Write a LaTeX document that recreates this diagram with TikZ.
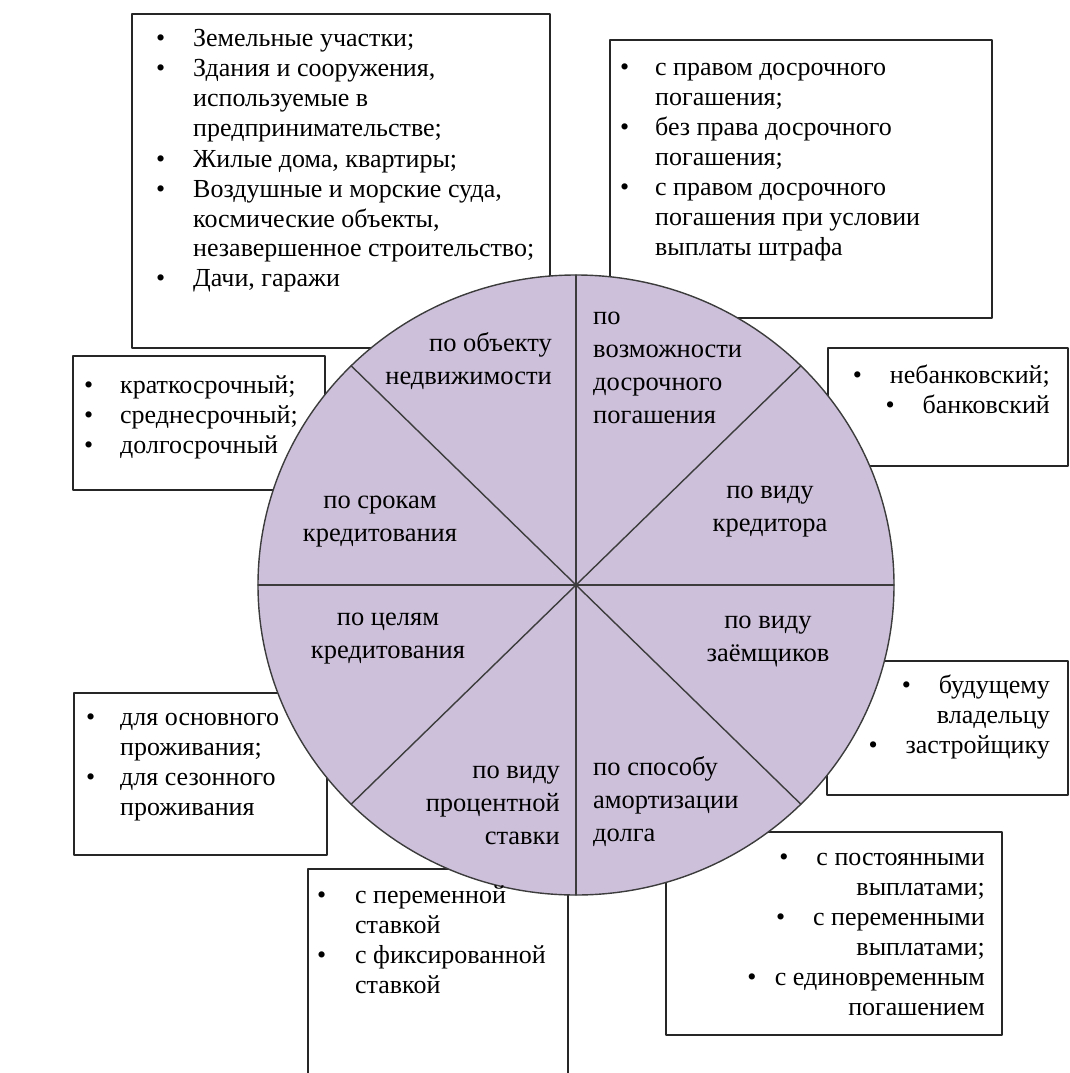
\documentclass[tikz,border=0pt]{standalone}
\usepackage{fontspec}
\setmainfont{Liberation Serif}
\definecolor{lilac}{RGB}{204,192,218}
\definecolor{rimgray}{RGB}{60,60,60}
\newcommand{\bul}[1][28]{\textbullet\hspace{#1pt}}

\begin{document}
\begin{tikzpicture}[line cap=round,line join=round,x=1pt,y=-1pt,
	frame/.style={line width=1.6pt,color=black!85},
	rim/.style={line width=1.4pt,color=rimgray},
	txt/.style={inner sep=0pt,font=\fontsize{26}{30}\selectfont},
	sec/.style={inner sep=0pt,font=\fontsize{26.5}{33}\selectfont}]
	\clip (0,0) rectangle (1070,1073);
	\useasboundingbox (0,0) rectangle (1070,1073);
	% boxes
	\draw [frame] (132,14) rectangle (550,348);
	\draw [frame] (610,40) rectangle (992,318);
	\draw [frame] (73,356) rectangle (325,490);
	\draw [frame] (828,348) rectangle (1068,466);
	\draw [frame] (827,661) rectangle (1068,795);
	\draw [frame] (74,693) rectangle (327,855);
	\draw [frame] (308,869) rectangle (568,1090);
	\draw [frame] (666,832) rectangle (1002,1035);
	% circle
	\coordinate (ctr) at (576,585);
	\fill [lilac] (ctr) ellipse [x radius=318,y radius=310];
	\draw [rim] (ctr) +(90:318 and 310) -- +(270:318 and 310);
	\draw [rim] (ctr) +(0:318 and 310) -- +(180:318 and 310);
	\draw [rim] (ctr) +(45:318 and 310) -- +(225:318 and 310);
	\draw [rim] (ctr) +(135:318 and 310) -- +(315:318 and 310);
	\draw [rim] (ctr) ellipse [x radius=318,y radius=310];
	% sector labels (base = last line)
	\draw[color=black] (552,384) node[sec,anchor=base east,align=right] (objekt) {по объекту\\недвижимости};
	\draw[color=black] (593,423) node[sec,anchor=base west,align=left] (dosroch) {по\\возможности\\досрочного\\погашения};
	\draw[color=black] (770,531) node[sec,anchor=base,align=center] (kreditor) {по виду\\кредитора};
	\draw[color=black] (768,661) node[sec,anchor=base,align=center] (zaem) {по виду\\заёмщиков};
	\draw[color=black] (593,841) node[sec,anchor=base west,align=left] (amort) {по способу\\амортизации\\долга};
	\draw[color=black] (560,844) node[sec,anchor=base east,align=right] (stavka) {по виду\\процентной\\ставки};
	\draw[color=black] (388,658) node[sec,anchor=base,align=center] (celi) {по целям\\кредитования};
	\draw[color=black] (380,541) node[sec,anchor=base,align=center] (sroki) {по срокам\\кредитования};
	% box texts
	\draw[color=black] (156,47) node[txt,anchor=base west] (obj list) {\begin{tabular}[t]{@{}p{37pt}@{}l@{}}
		\textbullet & Земельные участки;\\
		\textbullet & Здания и сооружения,\\
		 & используемые в\\
		 & предпринимательстве;\\
		\textbullet & Жилые дома, квартиры;\\
		\textbullet & Воздушные и морские суда,\\
		 & космические объекты,\\
		 & незавершенное строительство;\\
		\textbullet & Дачи, гаражи\end{tabular}};
	\draw[color=black] (620,75) node[txt,anchor=base west] (dos list) {\begin{tabular}[t]{@{}p{35pt}@{}l@{}}
		\textbullet & с правом досрочного\\
		 & погашения;\\
		\textbullet & без права досрочного\\
		 & погашения;\\
		\textbullet & с правом досрочного\\
		 & погашения при условии\\
		 & выплаты штрафа\end{tabular}};
	\draw[color=black] (84,393) node[txt,anchor=base west] (srok list) {\begin{tabular}[t]{@{}p{36pt}@{}l@{}}
		\textbullet & краткосрочный;\\
		\textbullet & среднесрочный;\\
		\textbullet & долгосрочный\end{tabular}};
	\draw[color=black] (1050,383) node[txt,anchor=base east] (kred list) {\begin{tabular}[t]{@{}r@{}}
		\bul небанковский;\\
		\bul банковский\end{tabular}};
	\draw[color=black] (1050,693) node[txt,anchor=base east] (zaem list) {\begin{tabular}[t]{@{}r@{}}
		\bul будущему\\
		владельцу\\
		\bul застройщику\end{tabular}};
	\draw[color=black] (86,725) node[txt,anchor=base west] (cel list) {\begin{tabular}[t]{@{}p{34pt}@{}l@{}}
		\textbullet & для основного\\
		 & проживания;\\
		\textbullet & для сезонного\\
		 & проживания\end{tabular}};
	\draw[color=black] (317,903) node[txt,anchor=base west] (stav list) {\begin{tabular}[t]{@{}p{38pt}@{}l@{}}
		\textbullet & с переменной\\
		 & ставкой\\
		\textbullet & с фиксированной\\
		 & ставкой\end{tabular}};
	\draw[color=black] (985,865) node[txt,anchor=base east] (amort list) {\begin{tabular}[t]{@{}r@{}}
		\bul с постоянными\\
		выплатами;\\
		\bul с переменными\\
		выплатами;\\
		\bul[12] с единовременным\\
		погашением\end{tabular}};
\end{tikzpicture}
\end{document}
